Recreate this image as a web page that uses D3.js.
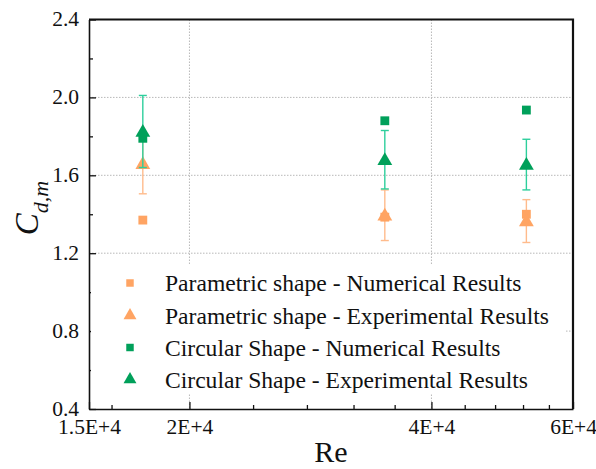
<!DOCTYPE html>
<html><head><meta charset="utf-8">
<script src="https://cdn.jsdelivr.net/npm/d3@7"></script>
<style>body{margin:0;background:#fff}svg{display:block}
svg text{font-family:"Liberation Serif","DejaVu Serif","Times New Roman",serif !important;}</style>
</head><body>
<script>
const reValues = [17500, 35000, 52500];
const paramNumerical = [1.37, 1.385, 1.40];
const paramExperimental = [1.66, 1.395, 1.365];
const paramExpError = [0.155, 0.13, 0.11];
const circNumerical = [1.79, 1.88, 1.935];
const circExperimental = [1.825, 1.68, 1.655];
const circExpError = [0.185, 0.15, 0.13];
const xTickValues = [15000, 20000, 40000, 60000];
const xTickLabels = ["1.5E+4", "2E+4", "4E+4", "6E+4"];
const xMinorTicks = [16000, 24000, 28000, 32000, 36000, 44000, 48000, 52000, 56000];
const yTickValues = [0.4, 0.8, 1.2, 1.6, 2.0, 2.4];
const yMinorTicks = [0.6, 1.0, 1.4, 1.8, 2.2];
const legendLabels = ["Parametric shape - Numerical Results", "Parametric shape - Experimental Results", "Circular Shape - Numerical Results", "Circular Shape - Experimental Results"];

const W = 596, H = 469;
const L = 89, R = 573, T = 19.5, B = 409;
const orange = "#ffa463", orangeBar = "#ffbb8c", green = "#00a05a", greenBar = "#2dcf9c";

const svg = d3.select("body").append("svg").attr("width", W).attr("height", H);
const x = d3.scaleLog().domain([15000, 60000]).range([L, R]);
const y = d3.scaleLinear().domain([0.4, 2.4]).range([B, T]);

// grid
const grid = svg.append("g").attr("stroke", "#b8b8b8").attr("stroke-width", 1).attr("stroke-dasharray", "1.5,1.5");
[20000, 40000].forEach(v => grid.append("line").attr("x1", x(v)).attr("x2", x(v)).attr("y1", T).attr("y2", B));
[0.8, 1.2, 1.6, 2.0].forEach(v => grid.append("line").attr("x1", L).attr("x2", R).attr("y1", y(v)).attr("y2", y(v)));

// axes with inward ticks
const xAxis = d3.axisBottom(x).tickValues(xTickValues).tickFormat((d, i) => xTickLabels[i]).tickSizeInner(-7).tickSizeOuter(0).tickPadding(10);
const gx = svg.append("g").attr("transform", `translate(0,${B})`).call(xAxis);
const xMinor = d3.axisBottom(x).tickValues(xMinorTicks).tickFormat("").tickSizeInner(-4).tickSizeOuter(0);
svg.append("g").attr("transform", `translate(0,${B})`).call(xMinor).select(".domain").remove();
const yAxis = d3.axisLeft(y).tickValues(yTickValues).tickFormat(d3.format(".1f")).tickSizeInner(-7).tickSizeOuter(0).tickPadding(10);
const gy = svg.append("g").attr("transform", `translate(${L},0)`).call(yAxis);
const yMinor = d3.axisLeft(y).tickValues(yMinorTicks).tickFormat("").tickSizeInner(-4).tickSizeOuter(0);
svg.append("g").attr("transform", `translate(${L},0)`).call(yMinor).select(".domain").remove();
svg.selectAll("g").attr("font-family", null);
svg.selectAll(".tick line").attr("stroke", "#111").attr("stroke-width", 1.3);
svg.selectAll(".domain").attr("stroke", "#111").attr("stroke-width", 1.6);
svg.selectAll(".tick text").attr("font-size", 21.5).attr("fill", "#111");
gx.selectAll(".tick text").attr("dy", "0.71em");
gy.selectAll(".tick text").attr("dy", "0.3em");

// frame top/right
svg.append("path").attr("d", `M${L},${T}H${R}V${B}`).attr("fill", "none").attr("stroke", "#111").attr("stroke-width", 2.2);

// legend background
const legG = svg.append("g");
legG.append("rect").attr("x", L + 2).attr("y", 264).attr("width", 474).attr("height", 130).attr("fill", "#fff");

const sq = d3.symbol().type(d3.symbolSquare).size(78);
const tri = d3.symbol().type(d3.symbolTriangle).size(95);

function errorBars(vals, errs, color) {
  const g = svg.append("g").attr("stroke", color).attr("stroke-width", 1.4);
  reValues.forEach((r, i) => {
    const cx = x(r), y1 = y(vals[i] + errs[i]), y2 = y(vals[i] - errs[i]);
    g.append("line").attr("x1", cx).attr("x2", cx).attr("y1", y1).attr("y2", y2);
    g.append("line").attr("x1", cx - 4).attr("x2", cx + 4).attr("y1", y1).attr("y2", y1);
    g.append("line").attr("x1", cx - 4).attr("x2", cx + 4).attr("y1", y2).attr("y2", y2);
  });
}
function markers(vals, sym, color, dy) {
  svg.append("g").selectAll("path").data(vals).join("path")
    .attr("d", sym).attr("fill", color)
    .attr("transform", (d, i) => `translate(${x(reValues[i])},${y(d) + dy})`);
}

errorBars(paramExperimental, paramExpError, orangeBar);
markers(paramNumerical, sq, orange, 0);
markers(paramExperimental, tri, orange, 1);
errorBars(circExperimental, circExpError, greenBar);
markers(circNumerical, sq, green, 0);
markers(circExperimental, tri, green, 1);

// legend
const legColors = [orange, orange, green, green];
const legSyms = [d3.symbol().type(d3.symbolSquare).size(56), d3.symbol().type(d3.symbolTriangle).size(72), d3.symbol().type(d3.symbolSquare).size(56), d3.symbol().type(d3.symbolTriangle).size(72)];
const legY = [283, 315.5, 347.5, 379.5];
legendLabels.forEach((t, i) => {
  legG.append("path").attr("d", legSyms[i]()).attr("fill", legColors[i]).attr("transform", `translate(130,${legY[i]})`);
  legG.append("text").attr("x", 165).attr("y", legY[i]).attr("dy", "0.35em").attr("font-size", 23.6).attr("fill", "#111").text(t);
});

// axis titles
svg.append("text").attr("x", (L + R) / 2).attr("y", 462).attr("text-anchor", "middle").attr("font-size", 30).attr("fill", "#111").text("Re");
const yt = svg.append("text").attr("transform", `translate(38,208) rotate(-90)`).attr("text-anchor", "middle").attr("fill", "#111").attr("font-style", "italic");
yt.append("tspan").attr("font-size", 33).text("C");
yt.append("tspan").attr("font-size", 22).attr("dy", 10).text("d,m");
</script>
</body></html>
